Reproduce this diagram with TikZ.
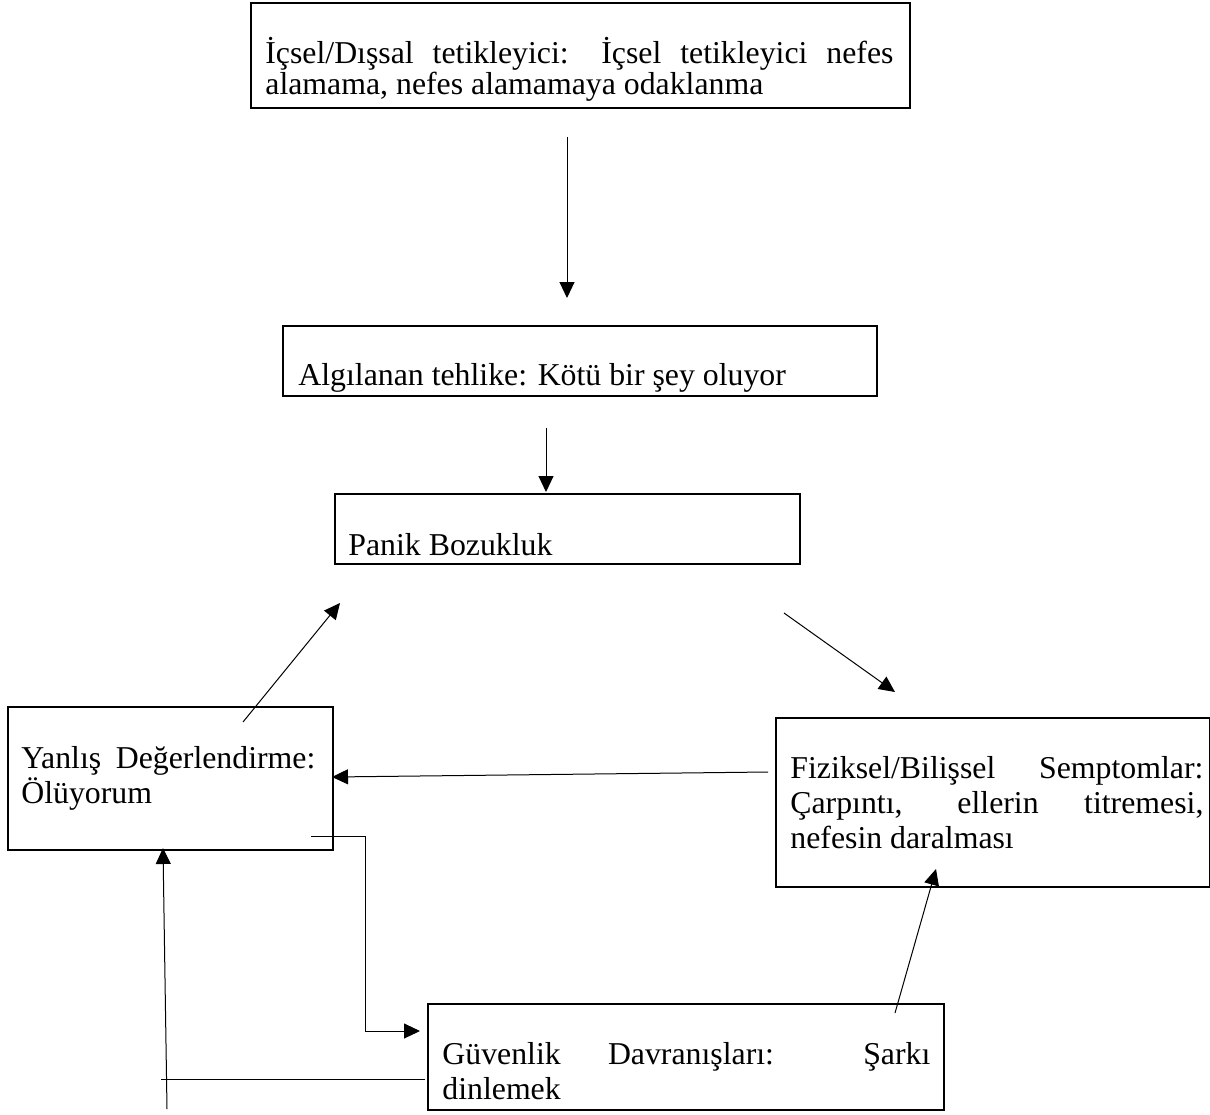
\documentclass[tikz,border=0pt]{standalone}
\usepackage{fontspec}
\setmainfont{Liberation Serif}
\usetikzlibrary{arrows.meta}
\begin{document}
\begin{tikzpicture}[x=0.5pt,y=-0.5pt,
  box/.style={draw, line width=1pt, rectangle, inner sep=0pt, anchor=north west},
  txt/.style={anchor=base west, inner sep=0pt, font=\fontsize{15.9pt}{17.5pt}\selectfont},
  jtxt/.style={txt, align=justify},
  conn/.style={line width=0.5pt, -{Triangle[length=8pt,width=7.5pt]}},
  plainline/.style={line width=0.5pt}]
\useasboundingbox (0,0) rectangle (1210,1114);

% boxes
\node[box, minimum width=329.5pt, minimum height=52.5pt] (b1) at (250,2) {};
\node[box, minimum width=297pt, minimum height=35pt] (b2) at (282,325) {};
\node[box, minimum width=232.5pt, minimum height=35pt] (b3) at (334,493) {};
\node[box, minimum width=162.5pt, minimum height=71.5pt] (by) at (7,706) {};
\node[box, minimum width=217pt, minimum height=84.5pt] (bf) at (775,717) {};
\node[box, minimum width=258pt, minimum height=53pt] (bg) at (427,1003) {};

% texts
\node[jtxt, text width=314pt, font=\fontsize{15.9pt}{13.5pt}\selectfont] (t1) at (265,63)
  {İçsel/Dışsal tetikleyici: İçsel tetikleyici nefes\linebreak alamama, nefes alamamaya odaklanma};
\node[txt] (t2) at (298,385) {Algılanan tehlike: Kötü bir şey oluyor};
\node[txt] (t3) at (348,555) {Panik Bozukluk};
\node[jtxt, text width=147pt] (ty) at (21,768) {Yanlış Değerlendirme:\linebreak Ölüyorum};
\node[jtxt, text width=206.5pt] (tf) at (790,778)
  {Fiziksel/Bilişsel Semptomlar:\linebreak Çarpıntı, ellerin titremesi,\linebreak nefesin daralması};
\node[jtxt, text width=244pt] (tg) at (442,1064) {Güvenlik Davranışları: Şarkı\linebreak dinlemek};

% connector end points
\coordinate (a1s) at (567,137);  \coordinate (a1e) at (567,298);
\coordinate (a2s) at (546,428);  \coordinate (a2e) at (546,492);
\coordinate (a3s) at (243,722);  \coordinate (a3e) at (340,603);
\coordinate (a4s) at (784,613);  \coordinate (a4e) at (895,692);
\coordinate (a5s) at (768,772);  \coordinate (a5e) at (332,777);
\coordinate (a6s) at (311,836);  \coordinate (a6e) at (420,1031);
\coordinate (a7s) at (895,1013); \coordinate (a7e) at (936,869);
\coordinate (a8s) at (425,1079); \coordinate (a8e) at (161,1079);
\coordinate (a9s) at (167,1109); \coordinate (a9e) at (163,848);

% connectors
\draw[conn] (a1s) -- (a1e);
\draw[conn] (a2s) -- (a2e);
\draw[conn] (a3s) -- (a3e);
\draw[conn] (a4s) -- (a4e);
\draw[conn] (a5s) -- (a5e);
\draw[conn] (a6s) -| (365,1031) -- (a6e);
\draw[conn] (a7s) -- (a7e);
\draw[plainline] (a8s) -- (a8e);
\draw[conn] (a9s) -- (a9e);
\end{tikzpicture}
\end{document}
